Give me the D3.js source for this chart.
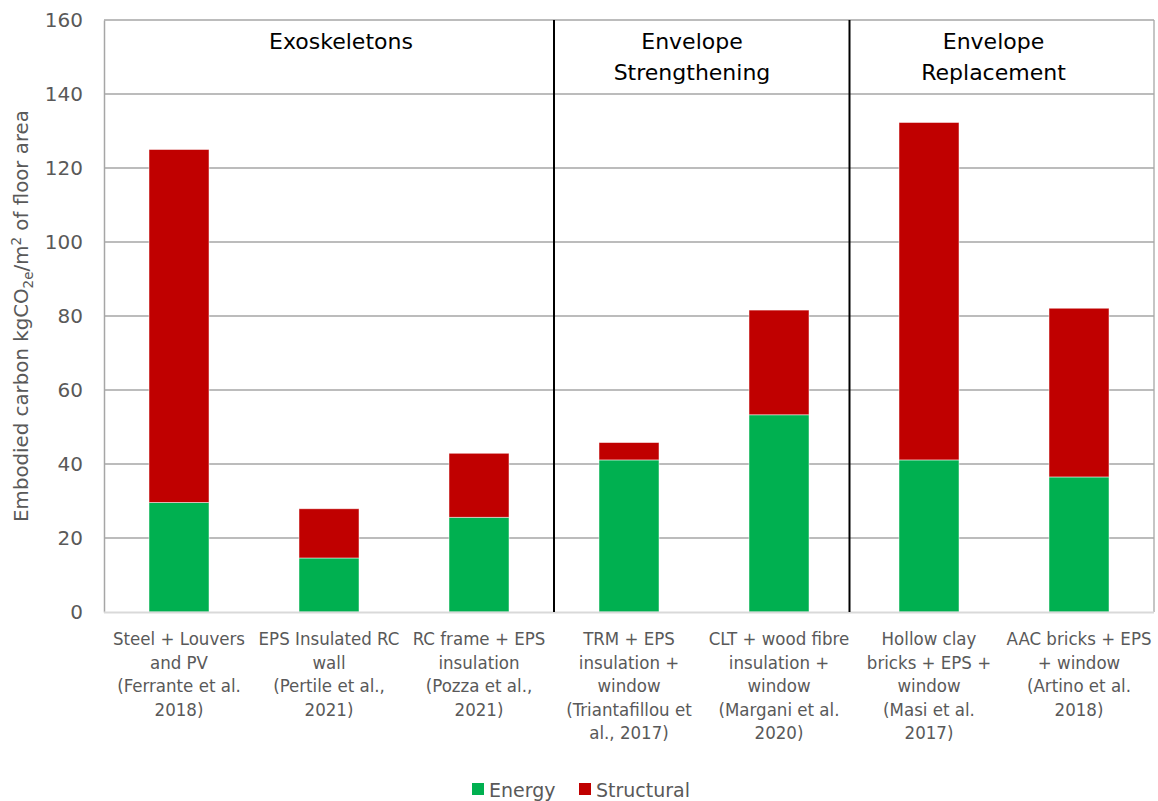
<!DOCTYPE html>
<html>
<head>
<meta charset="utf-8">
<script src="https://cdn.jsdelivr.net/npm/d3@7"></script>
<style>
  html, body { margin: 0; padding: 0; background: #fff; }
  svg { display: block; }
  .tick text { font-family: "DejaVu Sans", sans-serif; }
</style>
</head>
<body>
<svg id="chart" width="1158" height="801"></svg>
<script>
// Embodied carbon per retrofit solution (kgCO2e/m2 of floor area)
const categories = [
  ["Steel + Louvers", "and PV", "(Ferrante et al.", "2018)"],
  ["EPS Insulated RC", "wall", "(Pertile et al.,", "2021)"],
  ["RC frame + EPS", "insulation", "(Pozza et al.,", "2021)"],
  ["TRM + EPS", "insulation +", "window", "(Triantafillou et", "al., 2017)"],
  ["CLT + wood fibre", "insulation +", "window", "(Margani et al.", "2020)"],
  ["Hollow clay", "bricks + EPS +", "window", "(Masi et al.", "2017)"],
  ["AAC bricks + EPS", "+ window", "(Artino et al.", "2018)"]
];
const energy     = [29.6, 14.6, 25.6, 41.1, 53.3, 41.1, 36.5];
const structural = [95.4, 13.3, 17.3, 4.7, 28.3, 91.2, 45.6];
const seriesNames = ["Energy", "Structural"];
const seriesColors = ["#00B050", "#C00000"];
const yTicks = [0, 20, 40, 60, 80, 100, 120, 140, 160];

// Groups of solutions: label lines, centre and dividing lines (in category index units)
const groupLabels = [["Exoskeletons"], ["Envelope", "Strengthening"], ["Envelope", "Replacement"]];
const groupCenters = [1.08, 3.42, 5.43];
const groupDividers = [2.5, 4.47];

const svg = d3.select("#chart");
const plotLeft = 104, plotRight = 1154, plotTop = 20, plotBottom = 612;

const keys = categories.map((c, i) => "c" + i);
const x = d3.scaleBand().domain(keys).range([plotLeft, plotRight]).paddingInner(0.6).paddingOuter(0.3);
const idx = d3.scaleLinear().domain([0, 1]).range([x(keys[0]) + x.bandwidth() / 2, x(keys[1]) + x.bandwidth() / 2]);
const y = d3.scaleLinear().domain([0, 160]).range([plotBottom, plotTop]);

// Horizontal gridlines
svg.append("g").selectAll("line").data(yTicks.filter(t => t > 0)).join("line")
  .attr("x1", plotLeft).attr("x2", plotRight)
  .attr("y1", d => y(d)).attr("y2", d => y(d))
  .attr("stroke", "#A6A6A6").attr("stroke-width", 1.3);

// Right border
svg.append("line").attr("x1", plotRight).attr("x2", plotRight).attr("y1", plotTop).attr("y2", plotBottom)
  .attr("stroke", "#A6A6A6").attr("stroke-width", 1.3);

// Y axis
const yAxis = svg.append("g").attr("transform", `translate(${plotLeft},0)`)
  .call(d3.axisLeft(y).tickValues(yTicks).tickSize(0).tickPadding(21));
yAxis.select(".domain").attr("stroke", "#A6A6A6").attr("stroke-width", 1.5);
yAxis.selectAll(".tick text").attr("font-size", 20).attr("fill", "#595959");

// Stacked bars
const rows = keys.map((k, i) => ({ key: k, Energy: energy[i], Structural: structural[i] }));
const stacked = d3.stack().keys(seriesNames)(rows);
svg.append("g").selectAll("g").data(stacked).join("g")
  .attr("fill", (d, i) => seriesColors[i])
  .selectAll("rect").data(d => d).join("rect")
  .attr("x", d => x(d.data.key))
  .attr("width", x.bandwidth())
  .attr("y", d => y(d[1]))
  .attr("height", d => y(d[0]) - y(d[1]))
  .attr("stroke", "rgba(255,255,255,0.6)").attr("stroke-width", 0.8);

// Bottom axis line
svg.append("line").attr("x1", plotLeft).attr("x2", plotRight).attr("y1", plotBottom + 0.5).attr("y2", plotBottom + 0.5)
  .attr("stroke", "#D9D9D9").attr("stroke-width", 2);

// Group separators
svg.append("g").selectAll("line").data(groupDividers).join("line")
  .attr("x1", d => idx(d)).attr("x2", d => idx(d))
  .attr("y1", plotTop).attr("y2", plotBottom)
  .attr("stroke", "#000").attr("stroke-width", 2);

// Group headers
svg.append("g").selectAll("text").data(groupLabels).join("text")
  .attr("x", (d, i) => idx(groupCenters[i]))
  .attr("y", 49)
  .attr("text-anchor", "middle")
  .attr("font-family", "DejaVu Sans, sans-serif")
  .attr("font-size", 22)
  .attr("fill", "#000")
  .selectAll("tspan").data(d => d).join("tspan")
  .attr("x", function () { return d3.select(this.parentNode).attr("x"); })
  .attr("dy", (d, i) => i === 0 ? 0 : 31)
  .text(d => d);

// Category labels
svg.append("g").selectAll("text").data(categories).join("text")
  .attr("x", (d, i) => x(keys[i]) + x.bandwidth() / 2)
  .attr("y", 645)
  .attr("text-anchor", "middle")
  .attr("font-family", "DejaVu Sans Condensed, DejaVu Sans, sans-serif")
  .attr("font-stretch", "condensed")
  .attr("font-size", 18.5)
  .attr("fill", "#595959")
  .selectAll("tspan").data(d => d).join("tspan")
  .attr("x", function () { return d3.select(this.parentNode).attr("x"); })
  .attr("dy", (d, i) => i === 0 ? 0 : 23.6)
  .text(d => d);

// Y axis title
const yt = svg.append("text")
  .attr("transform", `translate(28,${(plotTop + plotBottom) / 2}) rotate(-90)`)
  .attr("text-anchor", "middle")
  .attr("font-family", "DejaVu Sans, sans-serif")
  .attr("font-size", 19.8)
  .attr("fill", "#595959");
yt.append("tspan").text("Embodied carbon kgCO");
yt.append("tspan").attr("font-size", 13.5).attr("dy", 5).text("2e");
yt.append("tspan").attr("dy", -5).text("/m");
yt.append("tspan").attr("font-size", 13.5).attr("dy", -7).text("2");
yt.append("tspan").attr("dy", 7).text(" of floor area");

// Legend
const legend = svg.append("g").attr("font-family", "DejaVu Sans, sans-serif").attr("font-size", 19).attr("fill", "#595959");
const legendX = [472, 579];
seriesNames.forEach((name, i) => {
  legend.append("rect").attr("x", legendX[i]).attr("y", 783).attr("width", 12).attr("height", 12).attr("fill", seriesColors[i]);
  legend.append("text").attr("x", legendX[i] + 17).attr("y", 797).text(name);
});
</script>
</body>
</html>
